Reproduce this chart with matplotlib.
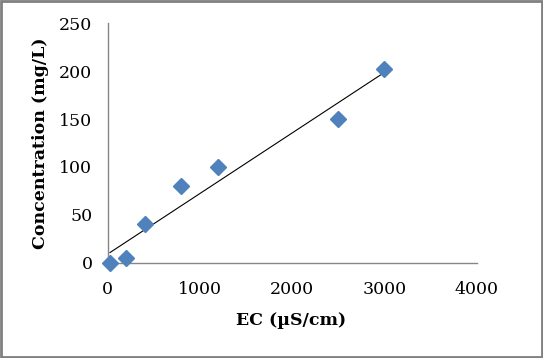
import numpy as np
import matplotlib
matplotlib.use("Agg")
import matplotlib.pyplot as plt
from matplotlib.patches import Rectangle

# EC vs concentration readings
ec = [25, 200, 400, 800, 1200, 2500, 3000]
conc = [0, 5, 40, 80, 100, 150, 202]
x_ticks = [0, 1000, 2000, 3000, 4000]
y_ticks = [0, 50, 100, 150, 200, 250]

plt.rcParams['font.family'] = ['DejaVu Serif']

fig = plt.figure(figsize=(5.43, 3.58), dpi=100)
ax = fig.add_axes([0.1983, 0.2662, 0.6796, 0.6687])

# linear trendline
m, b = np.polyfit(ec, conc, 1)
xs = np.array([min(ec), max(ec)])
ax.plot(xs, m * xs + b, color='black', lw=0.8, zorder=2)

ax.plot(ec, conc, linestyle='none', marker='D', markersize=8.5,
        color='#4F81BD', markeredgecolor='#4F81BD', zorder=3, clip_on=False)

ax.set_xlim(0, 4000)
ax.set_ylim(0, 250)
ax.set_xticks(x_ticks)
ax.set_yticks(y_ticks)
ax.tick_params(length=0, labelsize=12.5)
ax.tick_params(axis='x', pad=13)
ax.tick_params(axis='y', pad=11)

for s in ['top', 'right']:
    ax.spines[s].set_visible(False)
for s in ['left', 'bottom']:
    ax.spines[s].set_color('#868686')
    ax.spines[s].set_linewidth(1)

ax.set_xlabel('EC (µS/cm)', fontsize=12.5, fontweight='bold')
ax.set_ylabel('Concentration (mg/L)', fontsize=12.5, fontweight='bold')
ax.xaxis.set_label_coords(0.497, -0.205)
ax.yaxis.set_label_coords(-0.158, 0.5)

# outer chart border
fig.patches.append(Rectangle((0.002, 0.003), 0.996, 0.994, transform=fig.transFigure,
                             fill=False, edgecolor='#808080', lw=2))

fig.savefig('out.png', dpi=100)
